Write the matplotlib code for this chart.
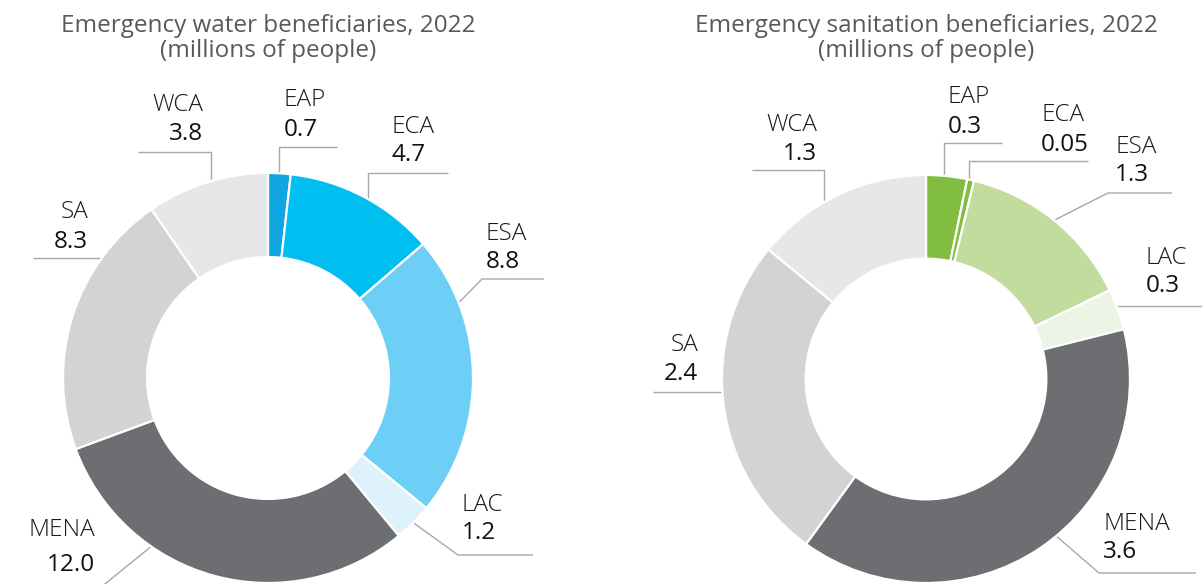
import numpy as np
import matplotlib.pyplot as plt

plt.rcParams['font.family'] = ['Open Sans', 'DejaVu Sans']

# data (millions of people), clockwise from 12 o'clock
regions = ['EAP', 'ECA', 'ESA', 'LAC', 'MENA', 'SA', 'WCA']
water = [0.7, 4.7, 8.8, 1.2, 12.0, 8.3, 3.8]
sanitation = [0.3, 0.05, 1.3, 0.3, 3.6, 2.4, 1.3]
water_text = ['0.7', '4.7', '8.8', '1.2', '12.0', '8.3', '3.8']
sanitation_text = ['0.3', '0.05', '1.3', '0.3', '3.6', '2.4', '1.3']

water_colors = ['#12a5e3', '#00bef0', '#6dcff6', '#def2fc', '#6d6e71', '#d1d3d4', '#e6e7e8']
sanitation_colors = ['#80bd41', '#80bd41', '#c1dc9c', '#edf4e5', '#6d6e71', '#d1d3d4', '#e6e7e8']

W, H = 1202, 584
fig = plt.figure(figsize=(W / 100, H / 100), dpi=100)

# overlay axes in pixel units (y down) for titles, labels and leader lines
ov = fig.add_axes([0, 0, 1, 1])
ov.set_xlim(0, W)
ov.set_ylim(H, 0)
ov.set_axis_off()

LINE = '#a7a8aa'

# label layout: where on the wedge the leader starts (fraction, clockwise),
# the leader route, and the text anchor (x, name baseline, value baseline, ha)
water_layout = {
    'EAP': (0.5, ('up', 147, 337), (284, 106, 136, 'left')),
    'ECA': (0.53, ('up', 173, 448), (392, 133, 161, 'left')),
    'ESA': (0.24, ('diag', (482, 279), 544), (486, 240, 268, 'left')),
    'LAC': (0.5, ('diag', (458, 555), 533), (462, 511, 539, 'left')),
    'MENA': (0.68, ('diag', (90, 596), 20), (95, 536, 571, 'right')),
    'SA': (0.74, ('flat', 33), (88, 218, 248, 'right')),
    'WCA': (0.53, ('up', 152, 138), (203, 111, 140, 'right')),
}
sanitation_layout = {
    'EAP': (0.43, ('up', 143, 1002), (948, 103, 133, 'left')),
    'ECA': (0.3, ('up', 161, 1088), (1041, 121, 151, 'left')),
    'ESA': (0.5, ('diag', (1108, 193), 1172), (1115, 153, 181, 'left')),
    'LAC': (0.4, ('flat', 1202), (1146, 264, 292, 'left')),
    'MENA': (0.46, ('diag', (1099, 573), 1196), (1103, 530, 558, 'left')),
    'SA': (0.54, ('flat', 653), (698, 351, 380, 'right')),
    'WCA': (0.41, ('up', 170, 752), (817, 131, 160, 'right')),
}


def donut(cx, cy, r, values, colors, texts, layout, title):
    ax = fig.add_axes([(cx - r) / W, (H - cy - r) / H, 2 * r / W, 2 * r / H])
    wedges, _ = ax.pie(values, colors=colors, startangle=90, counterclock=False,
                       wedgeprops=dict(width=0.41, edgecolor='white', linewidth=1.6))
    ax.set_xlim(-1, 1)
    ax.set_ylim(-1, 1)

    to_px = ax.transData + ov.transData.inverted()
    for w, name, val in zip(wedges, regions, texts):
        frac, route, (tx, ny, vy, ha) = layout[name]
        ang = np.deg2rad(w.theta2 - frac * (w.theta2 - w.theta1))
        x0, y0 = to_px.transform((np.cos(ang), np.sin(ang)))
        if route[0] == 'up':
            xs, ys = [x0, x0, route[2]], [y0, route[1], route[1]]
        elif route[0] == 'diag':
            (ex, ey), xe = route[1], route[2]
            xs, ys = [x0, ex, xe], [y0, ey, ey]
        else:
            xs, ys = [x0, route[1]], [y0, y0]
        ov.plot(xs, ys, color=LINE, lw=1.0, solid_capstyle='butt')
        ov.text(tx, ny, name, ha=ha, va='baseline', fontsize=17.5,
                fontweight='light', color='#1a1a1a')
        ov.text(tx, vy, val, ha=ha, va='baseline', fontsize=17.5, color='#111111')

    ov.text(cx, 32, title, ha='center', va='baseline', fontsize=17.5,
            color='#58595b')
    ov.text(cx, 57, '(millions of people)', ha='center', va='baseline',
            fontsize=17.5, color='#58595b')


donut(268, 378, 205, water, water_colors, water_text, water_layout,
      'Emergency water beneficiaries, 2022')
donut(926, 379, 204, sanitation, sanitation_colors, sanitation_text, sanitation_layout,
      'Emergency sanitation beneficiaries, 2022')

fig.savefig('out.png', dpi=100)
